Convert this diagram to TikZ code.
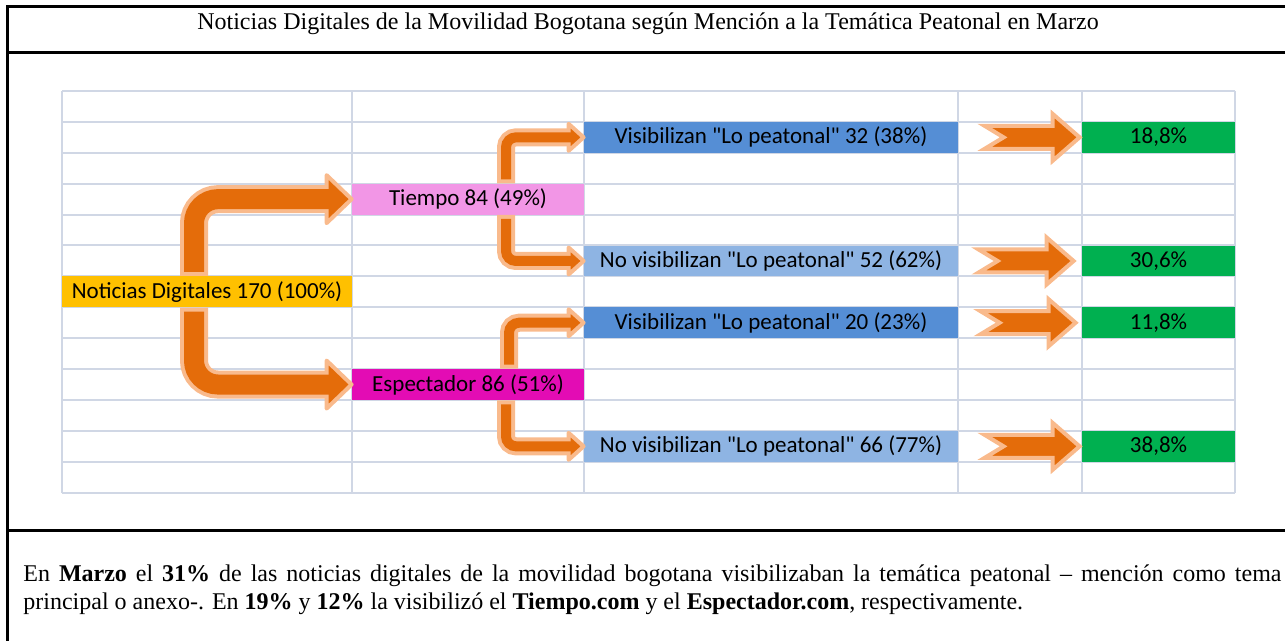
\documentclass[tikz,border=0pt]{standalone}
\usepackage{fontspec}
\setmainfont{Liberation Serif}
\newfontfamily\calibri{Carlito}
\usetikzlibrary{calc}

\definecolor{amarillo}{HTML}{FFC000}
\definecolor{rosa}{HTML}{F296E6}
\definecolor{magenta}{HTML}{E30CB4}
\definecolor{azul}{HTML}{558ED5}
\definecolor{azulclaro}{HTML}{8EB4E3}
\definecolor{verde}{HTML}{00B050}
\definecolor{naranja}{HTML}{E46C0A}
\definecolor{naranjaclaro}{HTML}{F9BA8C}
\definecolor{gris}{HTML}{D0D7E5}

% flecha doblada: inicio, punta, grosor, largo punta, media altura punta, radio
\newcommand{\flechacurva}[6]{%
  \draw[naranjaclaro, line width=#3+4pt, rounded corners=#6] (#1) |- ($(#2)+(-#4,0)$);
  \filldraw[fill=naranja, draw=naranjaclaro, line width=2pt, line join=round]
    ($(#2)+(-#4,-#5)$) -- (#2) -- ($(#2)+(-#4,#5)$) -- cycle;
  \draw[naranja, line width=#3, rounded corners=#6, shorten <=2pt, shorten >=-1.5pt]
    (#1) |- ($(#2)+(-#4,0)$);
}
% flecha con muesca: nodo destino, desplazamiento
\newcommand{\flechamuesca}[2]{%
  \filldraw[fill=naranja, draw=naranjaclaro, line width=2pt, shift={($(#1.west)+(#2,0)$)}]
    (-97,-11.5) -- (-29,-11.5) -- (-29,-23.5) -- (-2,0) -- (-29,23.5)
    -- (-29,11.5) -- (-97,11.5) -- (-78,0) -- cycle;
}

\begin{document}
\begin{tikzpicture}  % ------ noticias de marzo --------------
      [x=0.5pt,y=-0.5pt,
       celda/.style={inner sep=0pt, minimum height=15.45pt, text=black,
                     font=\calibri\fontsize{11.5}{13}\selectfont},
       rejilla/.style={draw=gris, line width=1pt},
       marco/.style={line width=1.5pt}]
    \useasboundingbox (0,0) rectangle (1285,641);

    \draw[marco] (1285,7) -- (7,7) -- (7,641);
    \draw[marco] (7,53) -- (1285,53);
    \draw[marco] (7,530) -- (1285,530);
    \node[font=\fontsize{12}{14}\selectfont] (titulo) at (648,24) {Noticias Digitales de la Movilidad Bogotana según Mención a la Temática Peatonal en Marzo};

    % rejilla de la hoja
    \foreach \k in {0,...,13}
      \draw[rejilla] (62,{91+30.9*\k}) -- (1235,{91+30.9*\k});
    \foreach \x in {62,352,584,958,1082,1235}
      \draw[rejilla] (\x,91) -- (\x,492.7);

    \node[celda, fill=amarillo, minimum width=145pt] (noti) at (207,291.85) {Noticias Digitales 170 (100\%)};
    \node[celda, fill=rosa, minimum width=116pt] (tiempo) at (468,199.15) {Tiempo 84 (49\%)};
    \node[celda, fill=magenta, minimum width=116pt] (espec) at (468,384.55) {Espectador 86 (51\%)};

    \node[celda, fill=azul, minimum width=187pt] (vis1) at (771,137.35) {Visibilizan "Lo peatonal" 32 (38\%)};
    \node[celda, fill=azulclaro, minimum width=187pt] (novis1) at (771,261) {No visibilizan "Lo peatonal" 52 (62\%)};
    \node[celda, fill=azul, minimum width=187pt] (vis2) at (771,322.75) {Visibilizan "Lo peatonal" 20 (23\%)};
    \node[celda, fill=azulclaro, minimum width=187pt] (novis2) at (771,446.35) {No visibilizan "Lo peatonal" 66 (77\%)};

    \node[celda, fill=verde, minimum width=76.5pt] (verde1) at (1158.5,137.35) {18,8\%};
    \node[celda, fill=verde, minimum width=76.5pt] (verde2) at (1158.5,261) {30,6\%};
    \node[celda, fill=verde, minimum width=76.5pt] (verde3) at (1158.5,322.75) {11,8\%};
    \node[celda, fill=verde, minimum width=76.5pt] (verde4) at (1158.5,446.35) {38,8\%};

    % flechas
    \flechacurva{$(noti.north)+(-13,0)$}{tiempo.west}{10pt}{25}{24}{12pt}
    \flechacurva{$(noti.south)+(-13,0)$}{espec.west}{10pt}{25}{24}{12pt}
    \flechacurva{$(tiempo.north)+(38,0)$}{vis1.west}{5pt}{15}{13.5}{5pt}
    \flechacurva{$(tiempo.south)+(38,0)$}{novis1.west}{5pt}{15}{13.5}{5pt}
    \flechacurva{$(espec.north)+(41,0)$}{vis2.west}{5pt}{15}{13.5}{5pt}
    \flechacurva{$(espec.south)+(38,0)$}{novis2.west}{5pt}{15}{13.5}{5pt}

    \flechamuesca{verde1}{0}
    \flechamuesca{verde2}{-6}
    \flechamuesca{verde3}{-4}
    \flechamuesca{verde4}{0}

    \node[anchor=north west, inner sep=0pt, text width=629pt, align=justify,
          font=\fontsize{12}{14}\selectfont] (texto) at (23,564)
      {En \textbf{Marzo} el \textbf{31\%} de las noticias digitales de la movilidad bogotana visibilizaban la temática peatonal -- mención como tema\linebreak
       principal o anexo-. En \textbf{19\%} y \textbf{12\%} la visibilizó el \textbf{Tiempo.com} y el \textbf{Espectador.com}, respectivamente.};
\end{tikzpicture}
\end{document}
